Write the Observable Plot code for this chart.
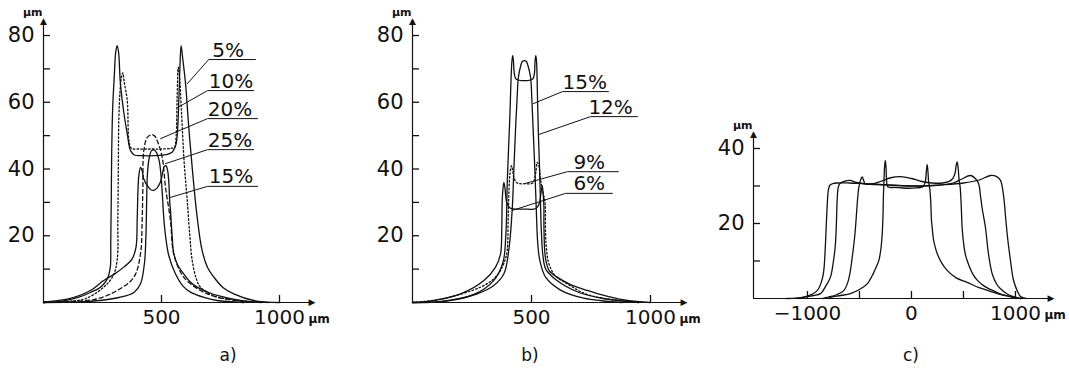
<!DOCTYPE html>
<html><head><meta charset="utf-8">
<script src="https://cdn.jsdelivr.net/npm/d3@7"></script>
<script src="https://cdn.jsdelivr.net/npm/@observablehq/plot@0.6"></script>
<style>
body{margin:0;background:#fff;}
#wrap{position:relative;width:1069px;height:376px;overflow:hidden;background:#fff;}
.panel{position:absolute;top:0;}
.panel svg{max-width:none;}
.cap{position:absolute;font:17px "DejaVu Sans",sans-serif;color:#111;transform:translate(-50%,-50%);white-space:nowrap;}
</style></head><body><div id="wrap"></div>
<script>
// ---------- Panel a ----------
const aXDomain = [0, 1144];
const aYDomain = [0, 84.5];
const aXTicks = [500, 1000];
const aXLabels = [500, 1000];
const aYTicks = [10, 20, 30, 40, 50, 60, 70, 80];
const aYLabels = [20, 40, 60, 80];
const a5 = [[0,0],[80,0.4],[150,1.6],[199,3],[240,4.5],[270,7],[283,10.6],[285,18],[287,30],[289,45],[293,58],[300,68],[306,75],[312,77],[318,75],[326,65.5],[340,57],[355,50.5],[369,45.5],[385,44.2],[420,44],[470,44],[520,44.3],[545,45],[560,47],[567,50.5],[574,62],[578,70.5],[583,77],[590,73],[602,65.5],[615,53],[630,40.5],[651,25.6],[672,15.6],[695,10.5],[722,7.6],[760,4.5],[806,2.6],[891,0.6],[1000,0]];
const a10 = [[0,0],[100,0.3],[180,1.2],[255,4.6],[295,8],[312,12.6],[315,25],[317,40],[319,54.5],[324,63],[330,67.5],[336,68.8],[342,66],[355,60.5],[362,48.5],[372,46.2],[400,46],[450,46],[500,46],[540,46.2],[555,46.5],[562,50],[566,60.5],[571,70.5],[576,68],[584,58],[596,42],[609,30.6],[620,20],[630,12.6],[648,7],[665,4.6],[720,2],[778,1.1],[870,0.3],[950,0]];
const a20 = [[0,0],[120,0.3],[227,1.1],[312,3.6],[383,7.6],[411,14.6],[418,24.6],[421,34.5],[425,45.5],[440,49.5],[460,50.3],[472,49.8],[482,48.5],[503,43.5],[517,34.5],[538,24.6],[552,14.6],[594,7.6],[665,3.6],[736,1.6],[850,0.3],[950,0]];
const a25 = [[0,0],[150,0.2],[240,0.6],[320,1.5],[383,3],[411,5.6],[428,12],[434,20],[437,30],[440,38],[447,43],[458,45.5],[467,45.7],[478,45],[490,42.5],[498,38],[503,33],[510,25],[517,20],[531,14],[559,8.6],[590,5],[623,3.1],[680,1.5],[735,0.6],[850,0]];
const a15 = [[0,0.2],[100,1],[199,3.6],[255,6.6],[300,8.5],[340,10.6],[375,13],[392,16.6],[397,25],[400,33],[404,38],[411,40.5],[418,39.5],[425,37],[440,35],[455,33.8],[467,33.6],[480,34.2],[495,36],[505,39],[512,40.8],[519,41],[526,39.5],[531,36],[535,30],[538,27.6],[545,20],[552,14.6],[570,11],[594,8.6],[620,6.3],[651,4.6],[700,3],[736,2.1],[820,0.8],[920,0]];
const aLabText = ["5%", "10%", "20%", "25%", "15%"];
const aLabX = [715, 700, 696, 696, 700];
const aLabLineY = [72.8, 63.5, 55.1, 45.8, 34.8];
const aLabLineX1 = [700, 695, 695, 695, 695];
const aLabLineX2 = [898, 890, 907, 890, 907];
const aLeadX = [610, 568, 496, 517, 538];
const aLeadY = [65.6, 58.4, 49.1, 41.6, 31.5];

// ---------- Panel b ----------
const bXDomain = [0, 1147];
const bYDomain = [0, 84.5];
const bXTicks = [500, 1000];
const bXLabels = [500, 1000];
const bYTicks = [10, 20, 30, 40, 50, 60, 70, 80];
const bYLabels = [20, 40, 60, 80];
const b6 = [[0,0],[62,0.3],[202,2.6],[300,6.6],[349,10.6],[370,14.6],[375,22],[377,30.6],[380,34],[384,36],[389,34],[393,31],[398,29.5],[410,28.3],[430,28],[470,28],[510,28],[524,28.5],[534,30],[540,33],[545,35],[549,32.5],[552,29],[552,24],[553,20],[556,15],[562,12],[575,9.5],[608,7.6],[660,5.5],[734,3.6],[820,1.8],[902,0.6],[1000,0]];
const b9 = [[0,0],[126,1.1],[286,4.6],[340,7],[370,9.6],[390,13],[398,15.6],[402,25],[405,33],[410,39],[416,41],[422,39],[428,37],[440,35.8],[475,35.6],[505,35.8],[518,39],[524,42],[531,41],[538,37],[548,33],[556,30.6],[559,20.6],[563,16],[573,11.6],[600,8],[650,5.6],[730,2.5],[818,1.1],[950,0]];
const b12 = [[0,0],[120,0.3],[260,2.5],[340,6.5],[380,12],[392,20],[398,35.6],[403,45],[409,55.5],[414,67],[418,72.5],[421,74],[424,72.5],[428,68.5],[435,67],[470,66.5],[505,67],[512,68.5],[515,72.5],[518,74],[521,72.5],[525,62],[529,50.3],[533,42],[537,32],[541,22],[548,14],[560,10],[600,7],[700,3],[800,1.2],[950,0]];
const b15 = [[0,0],[150,0.5],[272,2.6],[340,5],[384,8.6],[405,16],[419,28],[426,40],[433,52],[440,62],[445,67.5],[455,71],[462,72.3],[470,72.5],[478,72.3],[485,71],[496,67.5],[502,60],[508,50],[514,40],[520,28],[526,18],[535,12.6],[560,7.5],[620,3.8],[720,1.3],[880,0]];
const bLabText = ["15%", "12%", "9%", "6%"];
const bLabX = [630, 739, 676, 676];
const bLabLineY = [63.2, 55.7, 39.2, 32.7];
const bLabLineX1 = [630, 748, 651, 643];
const bLabLineX2 = [823, 945, 865, 840];
const bLeadX = [508, 529, 475, 420];
const bLeadY = [59.6, 50.3, 35.7, 27.6];

// ---------- Panel c ----------
const cXDomain = [-1519, 1356];
const cYDomain = [0, 44];
const cXTicks = [-1000, -500, 0, 500, 1000];
const cXLabels = [-1000, 0, 1000];
const cYTicks = [10, 20, 30, 40];
const cYLabels = [20, 40];
const c1 = [[-1200,0],[-1019,0.5],[-907,2.1],[-860,5],[-843,7.5],[-828,14],[-817,21],[-808,26],[-800,28.8],[-785,30.2],[-760,30.6],[-715,30.8],[-600,30.8],[-450,30.6],[-300,30.4],[-100,30.1],[100,30],[300,30.3],[500,30.8],[650,31.6],[760,32.8],[820,32.5],[856,31.5],[880,28.5],[895,25],[904,22],[925,16],[952,10.1],[980,5],[1016,2.1],[1050,0.5],[1100,0]];
const c2 = [[-1100,0],[-1038,0.3],[-940,0.8],[-875,1.3],[-820,3.5],[-779,5.7],[-750,10],[-731,14.6],[-722,20],[-715,26],[-705,29.5],[-690,30.6],[-640,31.3],[-587,31.5],[-540,31],[-450,30.6],[-250,30.3],[0,30],[250,30.2],[400,30.8],[480,31.8],[567,32.8],[620,31.8],[646,30.6],[665,27],[680,24],[711,19],[740,12],[776,6.6],[820,3.8],[856,2.6],[920,1.2],[981,0.5],[1050,0]];
const c3 = [[-850,0],[-810,0.3],[-720,1],[-651,2.1],[-610,4.5],[-587,7.5],[-565,12],[-548,16],[-538,19],[-525,24],[-515,27.5],[-506,29.7],[-490,31.5],[-474,32.4],[-460,31.5],[-445,30.6],[-400,30.5],[-300,31.2],[-200,32.2],[-106,32.5],[0,32],[100,31.2],[200,30.8],[300,30.8],[380,31.5],[415,33],[430,35.5],[439,36.4],[448,35],[458,31.5],[468,29.7],[478,25],[487,19],[500,15],[520,11.5],[550,9],[590,6.5],[632,4.9],[700,3.3],[824,1.6],[900,0.8],[981,0.3],[1050,0]];
const c4 = [[-800,0],[-779,0.3],[-680,0.8],[-587,1.3],[-500,2.4],[-426,3.9],[-370,6.5],[-330,9],[-314,10.1],[-295,13],[-282,17],[-274,22],[-270,27],[-265,31],[-259,35],[-252,36.8],[-245,35],[-238,31],[-228,29.8],[-150,29.6],[-50,29.4],[50,29.5],[110,29.8],[132,31],[143,34],[151,35.7],[158,34],[165,31],[175,29.5],[185,26],[192,21],[199,19],[210,16],[230,13.5],[247,12],[290,9.5],[343,7.5],[430,5.5],[535,4.3],[650,2.9],[760,1.9],[870,1],[952,0.5],[1000,0]];

const captions = ["a)", "b)", "c)"];

// ---------- drawing helpers ----------
const INK = "#111";
const FONT = "DejaVu Sans";
const TICK = 7;
const fmt = d => d < 0 ? "\u2212" + Math.abs(d) : String(d);

function curve(data, dash) {
  return Plot.line(data, {x: d => d[0], y: d => d[1], stroke: INK, strokeWidth: 1.3,
    strokeDasharray: dash || undefined, curve: "catmull-rom"});
}

function labelMarks(t, tx, ly, x1, x2, lx, lyLead) {
  const pts = t.flatMap((s, i) => [
    {k: s, x: lx[i], y: lyLead[i]}, {k: s, x: x1[i], y: ly[i]}, {k: s, x: x2[i], y: ly[i]}]);
  return [
    Plot.line(pts, {x: "x", y: "y", z: "k", stroke: INK, strokeWidth: 1, curve: "linear"}),
    Plot.text(t, {x: (d, i) => tx[i], y: (d, i) => ly[i], text: d => d, textAnchor: "start",
      lineAnchor: "bottom", dy: -3, fontSize: 20, fontFamily: FONT, fill: INK})
  ];
}

function axisMarks(fw, fh, xDomain, xTicks, xLabels, yTicks, yLabels) {
  const lastX = xLabels[xLabels.length - 1];
  return [
    Plot.ruleY([0], {stroke: INK, strokeWidth: 1.2}),
    Plot.ruleX([xDomain[0]], {stroke: INK, strokeWidth: 1.2}),
    // inward tick marks
    Plot.tickX(xTicks, {x: d => d, insetTop: fh - TICK, stroke: INK, strokeWidth: 1.3}),
    Plot.tickY(yTicks, {y: d => d, insetRight: fw - TICK, stroke: INK, strokeWidth: 1.3}),
    // arrow heads
    Plot.text(["\u25B6"], {frameAnchor: "bottom-right", textAnchor: "end", lineAnchor: "middle", dx: 2, fontSize: 9, fontFamily: FONT, fill: INK}),
    Plot.text(["\u25B2"], {frameAnchor: "top-left", textAnchor: "middle", lineAnchor: "top", dy: -3, fontSize: 9, fontFamily: FONT, fill: INK}),
    // tick labels
    Plot.axisX(xTicks, {anchor: "bottom", tickSize: 0, tickPadding: 7, label: null,
      tickFormat: d => xLabels.includes(d) ? fmt(d) : "", fontSize: 20, fontFamily: FONT, fill: INK}),
    Plot.axisY(yTicks, {anchor: "left", tickSize: 0, tickPadding: 9, label: null,
      tickFormat: d => yLabels.includes(d) ? fmt(d) : "", fontSize: 21, fontFamily: FONT, fill: INK}),
    // unit labels
    Plot.text(["\u00B5m"], {frameAnchor: "top-left", textAnchor: "end", lineAnchor: "bottom", dx: -1, dy: -5, fontSize: 11, fontWeight: "bold", fontFamily: FONT, fill: INK}),
    Plot.text(["\u00B5m"], {x: () => lastX, frameAnchor: "bottom", textAnchor: "start", lineAnchor: "top", dx: 29, dy: 12, fontSize: 12, fontWeight: "bold", fontFamily: FONT, fill: INK})
  ];
}

function makePanel(left, width, margins, xDomain, yDomain, marksFn) {
  const fw = width - margins[0] - margins[1];
  const fh = 376 - margins[2] - margins[3];
  const svg = Plot.plot({
    width, height: 376,
    marginLeft: margins[0], marginRight: margins[1], marginTop: margins[2], marginBottom: margins[3],
    x: {domain: xDomain}, y: {domain: yDomain},
    style: {background: "transparent", overflow: "visible", fontFamily: FONT},
    marks: marksFn(fw, fh)
  });
  const div = document.createElement("div");
  div.className = "panel";
  div.style.left = left + "px";
  div.style.width = width + "px";
  div.appendChild(svg);
  document.getElementById("wrap").appendChild(div);
}

makePanel(0, 356, [43, 43, 20, 74], aXDomain, aYDomain, (fw, fh) => [
  ...axisMarks(fw, fh, aXDomain, aXTicks, aXLabels, aYTicks, aYLabels),
  curve(a5), curve(a10, "1.6,2.2"), curve(a20, "4,3"), curve(a25), curve(a15),
  ...labelMarks(aLabText, aLabX, aLabLineY, aLabLineX1, aLabLineX2, aLeadX, aLeadY)
]);

makePanel(356, 356, [56, 27, 20, 74], bXDomain, bYDomain, (fw, fh) => [
  ...axisMarks(fw, fh, bXDomain, bXTicks, bXLabels, bYTicks, bYLabels),
  curve(b6), curve(b9, "1.6,2.2"), curve(b12), curve(b15),
  ...labelMarks(bLabText, bLabX, bLabLineY, bLabLineX1, bLabLineX2, bLeadX, bLeadY)
]);

makePanel(712, 357, [41, 17, 133, 78], cXDomain, cYDomain, (fw, fh) => [
  ...axisMarks(fw, fh, cXDomain, cXTicks, cXLabels, cYTicks, cYLabels),
  curve(c1), curve(c2), curve(c3), curve(c4)
]);

// panel captions below the plots
const capX = [228, 530, 911];
captions.forEach((c, i) => {
  const s = document.createElement("span");
  s.className = "cap";
  s.textContent = c;
  s.style.left = capX[i] + "px";
  s.style.top = "355px";
  document.getElementById("wrap").appendChild(s);
});
</script></body></html>
